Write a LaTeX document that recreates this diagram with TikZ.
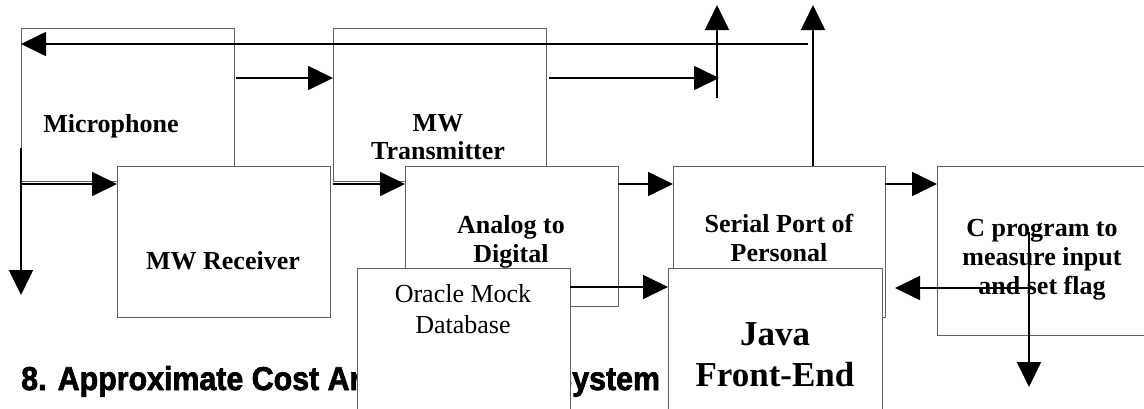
\documentclass[tikz,border=0pt]{standalone}
\usepackage{fontspec}
\setmainfont{Liberation Serif}
\newfontfamily\headfont[FakeBold=2.2]{Liberation Sans Bold}
\usetikzlibrary{arrows.meta}
\definecolor{boxgray}{gray}{0.38}
\tikzset{
  blk/.style={draw=boxgray, line width=0.9pt, fill=white, anchor=north west,
    inner sep=0pt, outer sep=0pt, minimum width=213pt},
  lbl/.style={anchor=base, inner sep=0pt, font=\bfseries\fontsize{26}{28}\selectfont},
  lblreg/.style={anchor=base, inner sep=0pt, font=\fontsize{26}{28}\selectfont},
  lblbig/.style={anchor=base, inner sep=0pt, font=\bfseries\fontsize{35}{38}\selectfont},
  conn/.style={line width=1.7pt, -{Triangle[length=25pt,width=24pt]}},
}
\begin{document}
\begin{tikzpicture}[x=1pt,y=-1pt]
\useasboundingbox (0,0) rectangle (1144,408);
\clip (0,0) rectangle (1144,408);
\fill[white] (0,0) rectangle (1144,408);

% heading (partly covered by the Oracle box)
\node[anchor=base west, inner sep=0pt, font=\headfont\fontsize{33}{35}\selectfont] (head) at (21,390) {\scalebox{0.92}[1]{8. Approximate Cost Analysis of the System}};

% top row boxes
\node[blk, minimum height=153pt] (mic) at (21,28) {};
\node[blk, minimum height=153pt] (trans) at (333,28) {};
\node[lbl] (tmic) at (111,132) {Microphone};
\node[lbl] (ttr1) at (438,131) {MW};
\node[lbl] (ttr2) at (438,159) {Transmitter};

% connectors of the top row
\coordinate (tl) at (808,44);
\draw[conn] (tl) -- (mic.west |- tl);
\coordinate (a1) at (236,78);
\draw[conn] (a1) -- (trans.west |- a1);
\coordinate (a2) at (549,78);
\coordinate (a2e) at (719,78);
\draw[conn] (a2) -- (a2e);
\coordinate (v1b) at (717,98);
\coordinate (v1t) at (717,5);
\draw[conn] (v1b) -- (v1t);

% middle row boxes
\node[blk, minimum height=151pt] (recv) at (117,166) {};
\node[blk, minimum height=140pt] (adc) at (405,166) {};
\node[blk, minimum height=151pt, minimum width=212pt] (serial) at (673,166) {};
\node[blk, minimum height=169pt] (cprog) at (937,166) {};
\node[lbl] (trecv) at (223,269) {MW Receiver};
\node[lbl] (tadc1) at (511,233) {Analog to};
\node[lbl] (tadc2) at (511,262) {Digital};
\node[lbl] (tser1) at (779,232) {Serial Port of};
\node[lbl] (tser2) at (779,261) {Personal};
\node[lbl] (tc1) at (1042,236) {C program to};
\node[lbl] (tc2) at (1042,265) {measure input};
\node[lbl] (tc3) at (1042,294) {and set flag};

% bottom boxes
\node[blk, minimum height=150pt] (oracle) at (357,268) {};
\node[blk, minimum height=150pt, minimum width=214pt] (java) at (668,268) {};
\node[lblreg] (tor1) at (463,302) {Oracle Mock};
\node[lblreg] (tor2) at (463,333) {Database};
\node[lblbig] (tj1) at (775,345) {Java};
\node[lblbig] (tj2) at (775,386) {Front-End};

% connectors
\coordinate (sup) at (813,5);
\draw[conn] (serial.north -| sup) -- (sup);
\coordinate (lvt) at (21,148);
\coordinate (lvb) at (21,295);
\draw[conn] (lvt) -- (lvb);
\coordinate (rin) at (21,184);
\draw[conn] (rin) -- (recv.west |- rin);
\coordinate (ain) at (333,184);
\draw[conn] (ain) -- (adc.west |- ain);
\draw[conn] (adc.east |- rin) -- (serial.west |- rin);
\draw[conn] (serial.east |- rin) -- (cprog.west |- rin);
\coordinate (oy) at (0,287);
\draw[conn] (oracle.east |- oy) -- (java.west |- oy);
\coordinate (cx) at (1029,288);
\coordinate (ctip) at (895,288);
\draw[conn] (cx) -- (ctip);
\coordinate (ctop) at (1029,232);
\coordinate (cbot) at (1029,387);
\draw[conn] (ctop) -- (cbot);
\end{tikzpicture}
\end{document}
